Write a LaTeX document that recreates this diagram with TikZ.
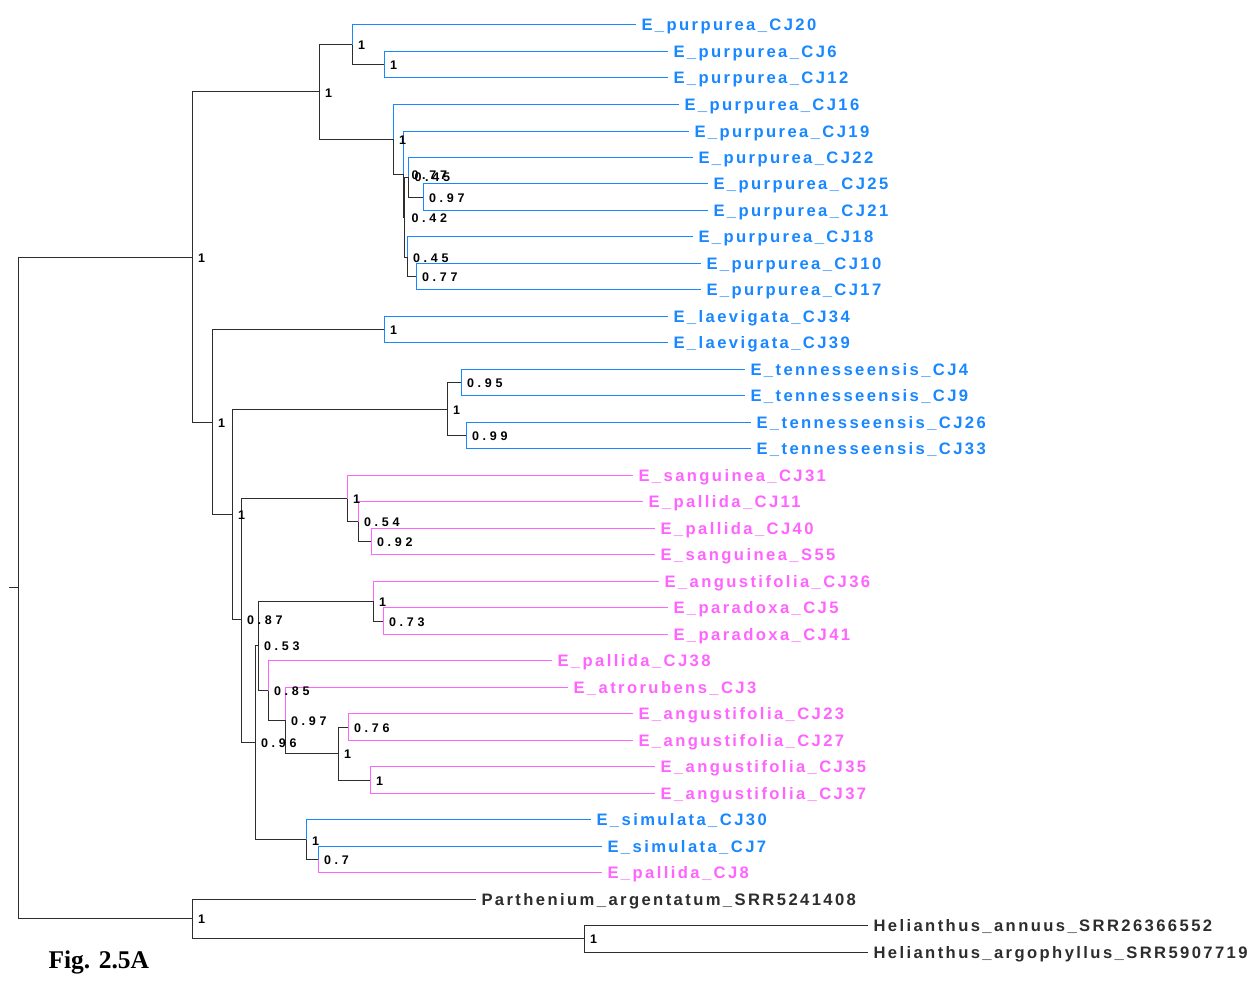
\documentclass[tikz,border=0pt]{standalone}
\usepackage{fontspec}
\setmainfont{Liberation Sans}
\newfontfamily\tipfont{Liberation Sans Bold}[LetterSpace=14.5]
\newfontfamily\supfont{Liberation Sans Bold}[LetterSpace=30]
\newfontfamily\figfont{Liberation Serif Bold}
\definecolor{cblue}{RGB}{25,135,255}
\definecolor{cpink}{RGB}{255,100,255}
\definecolor{cgray}{RGB}{45,45,45}
\newcommand{\myleaf}[6]{%
  \coordinate (#2) at (#3,#4);
  \draw[draw=#5] (#1) |- (#2);
  \node[tip, text=#5] (#2t) at (#3+5,#4+6) {#6};}
\newcommand{\mysup}[2]{%
  \node[sup] (#1l) at ([xshift=5.5pt,yshift=-1pt]#1) {#2};}
\begin{document}
\begin{tikzpicture}[x=1pt,y=-1pt,line width=1pt,
  br/.style={draw=cgray},
  tip/.style={anchor=base west, inner sep=0pt, font=\tipfont\fontsize{16.6}{16.6}\selectfont},
  sup/.style={anchor=west, inner sep=0pt, font=\supfont\fontsize{12.5}{12.5}\selectfont, text=black},
  figlab/.style={anchor=west, inner sep=0pt, font=\figfont\fontsize{25.5}{25.5}\selectfont}]
\useasboundingbox[fill=white] (0,0) rectangle (1251,982);
% internal nodes
\coordinate (rs) at (9,587.5);
\coordinate (root) at (18,587.5);
\coordinate (A) at (192,257);
\coordinate (OG) at (192,918.5);
\coordinate (HN) at (584,938.5);
\coordinate (B) at (319,92);
\coordinate (C) at (352,44.7);
\coordinate (D) at (384,64.7);
\coordinate (E) at (393,139);
\coordinate (I) at (403,174);
\coordinate (L) at (404.5,217);
\coordinate (G) at (408,177);
\coordinate (H) at (423,197);
\coordinate (J) at (407,257);
\coordinate (K) at (416,276.6);
\coordinate (M) at (212,422);
\coordinate (N) at (384,329.5);
\coordinate (O) at (232,514.5);
\coordinate (P) at (447,409);
\coordinate (Q) at (461,382.5);
\coordinate (R) at (466,435.5);
\coordinate (S) at (241,619.5);
\coordinate (T) at (347,498.5);
\coordinate (U) at (358,521.5);
\coordinate (V) at (371,541.5);
\coordinate (W) at (255,742);
\coordinate (X) at (258,645.5);
\coordinate (Y) at (373,601);
\coordinate (Z) at (383,621);
\coordinate (AA) at (268,690.5);
\coordinate (AB) at (285,720);
\coordinate (AC) at (338,753.5);
\coordinate (AD) at (348,727);
\coordinate (AE) at (370,780);
\coordinate (AF) at (306,839.7);
\coordinate (AG) at (318,859.5);
% internal branches
\draw[br] (rs) -- (root);
\draw[br] (root) |- (A);
\draw[br] (root) |- (OG);
\draw[br] (A) |- (B);
\draw[br] (A) |- (M);
\draw[br] (B) |- (C);
\draw[br] (B) |- (E);
\draw[br] (C) |- (D);
\draw[br] (E) |- (I);
\draw[br] (I) |- (L);
\draw[br] (L) |- (G);
\draw[br] (L) |- (J);
\draw[br] (G) |- (H);
\draw[br] (J) |- (K);
\draw[br] (M) |- (N);
\draw[br] (M) |- (O);
\draw[br] (O) |- (P);
\draw[br] (O) |- (S);
\draw[br] (P) |- (Q);
\draw[br] (P) |- (R);
\draw[br] (S) |- (T);
\draw[br] (S) |- (W);
\draw[br] (T) |- (U);
\draw[br] (U) |- (V);
\draw[br] (W) |- (X);
\draw[br] (W) |- (AF);
\draw[br] (X) |- (Y);
\draw[br] (X) |- (AA);
\draw[br] (Y) |- (Z);
\draw[br] (AA) |- (AB);
\draw[br] (AB) |- (AC);
\draw[br] (AC) |- (AD);
\draw[br] (AC) |- (AE);
\draw[br] (AF) |- (AG);
\draw[br] (OG) |- (HN);
% leaves
\myleaf{C}{l0}{636}{25}{cblue}{E\_purpurea\_CJ20}
\myleaf{D}{l1}{668}{51.5}{cblue}{E\_purpurea\_CJ6}
\myleaf{D}{l2}{668}{78}{cblue}{E\_purpurea\_CJ12}
\myleaf{E}{l3}{679}{104.5}{cblue}{E\_purpurea\_CJ16}
\myleaf{I}{l4}{689}{131}{cblue}{E\_purpurea\_CJ19}
\myleaf{G}{l5}{693}{157.4}{cblue}{E\_purpurea\_CJ22}
\myleaf{H}{l6}{708}{183.9}{cblue}{E\_purpurea\_CJ25}
\myleaf{H}{l7}{708}{210.4}{cblue}{E\_purpurea\_CJ21}
\myleaf{J}{l8}{693}{236.9}{cblue}{E\_purpurea\_CJ18}
\myleaf{K}{l9}{701}{263.4}{cblue}{E\_purpurea\_CJ10}
\myleaf{K}{l10}{701}{289.9}{cblue}{E\_purpurea\_CJ17}
\myleaf{N}{l11}{668}{316.3}{cblue}{E\_laevigata\_CJ34}
\myleaf{N}{l12}{668}{342.8}{cblue}{E\_laevigata\_CJ39}
\myleaf{Q}{l13}{745}{369.3}{cblue}{E\_tennesseensis\_CJ4}
\myleaf{Q}{l14}{745}{395.8}{cblue}{E\_tennesseensis\_CJ9}
\myleaf{R}{l15}{751}{422.3}{cblue}{E\_tennesseensis\_CJ26}
\myleaf{R}{l16}{751}{448.8}{cblue}{E\_tennesseensis\_CJ33}
\myleaf{T}{l17}{633}{475.3}{cpink}{E\_sanguinea\_CJ31}
\myleaf{U}{l18}{643}{501.7}{cpink}{E\_pallida\_CJ11}
\myleaf{V}{l19}{655}{528.2}{cpink}{E\_pallida\_CJ40}
\myleaf{V}{l20}{655}{554.7}{cpink}{E\_sanguinea\_S55}
\myleaf{Y}{l21}{659}{581.2}{cpink}{E\_angustifolia\_CJ36}
\myleaf{Z}{l22}{668}{607.7}{cpink}{E\_paradoxa\_CJ5}
\myleaf{Z}{l23}{668}{634.2}{cpink}{E\_paradoxa\_CJ41}
\myleaf{AA}{l24}{552}{660.6}{cpink}{E\_pallida\_CJ38}
\myleaf{AB}{l25}{568}{687.1}{cpink}{E\_atrorubens\_CJ3}
\myleaf{AD}{l26}{633}{713.6}{cpink}{E\_angustifolia\_CJ23}
\myleaf{AD}{l27}{633}{740.1}{cpink}{E\_angustifolia\_CJ27}
\myleaf{AE}{l28}{655}{766.6}{cpink}{E\_angustifolia\_CJ35}
\myleaf{AE}{l29}{655}{793.1}{cpink}{E\_angustifolia\_CJ37}
\myleaf{AF}{l30}{591}{819.6}{cblue}{E\_simulata\_CJ30}
\myleaf{AG}{l31}{602}{846}{cblue}{E\_simulata\_CJ7}
\myleaf{AG}{l32}{602}{872.5}{cpink}{E\_pallida\_CJ8}
\myleaf{OG}{l33}{476}{899}{cgray}{Parthenium\_argentatum\_SRR5241408}
\myleaf{HN}{l34}{868}{925.5}{cgray}{Helianthus\_annuus\_SRR26366552}
\myleaf{HN}{l35}{868}{952}{cgray}{Helianthus\_argophyllus\_SRR5907719}
% support values
\mysup{A}{1}
\mysup{OG}{1}
\mysup{HN}{1}
\mysup{B}{1}
\mysup{C}{1}
\mysup{D}{1}
\mysup{E}{1}
\node[sup] (Il) at (411,175) {0.77};
\node[sup] (Gl) at (414,177.5) {0.45};
\mysup{H}{0.97}
\node[sup] (Ll) at (411,218) {0.42};
\mysup{J}{0.45}
\mysup{K}{0.77}
\mysup{M}{1}
\mysup{N}{1}
\mysup{P}{1}
\mysup{Q}{0.95}
\mysup{R}{0.99}
\mysup{O}{1}
\mysup{S}{0.87}
\mysup{T}{1}
\mysup{U}{0.54}
\mysup{V}{0.92}
\mysup{W}{0.96}
\mysup{X}{0.53}
\mysup{Y}{1}
\mysup{Z}{0.73}
\mysup{AA}{0.85}
\mysup{AB}{0.97}
\mysup{AC}{1}
\mysup{AD}{0.76}
\mysup{AE}{1}
\mysup{AF}{1}
\mysup{AG}{0.7}
\node[figlab] (fig) at (48,962) {Fig. 2.5A};
\end{tikzpicture}
\end{document}
